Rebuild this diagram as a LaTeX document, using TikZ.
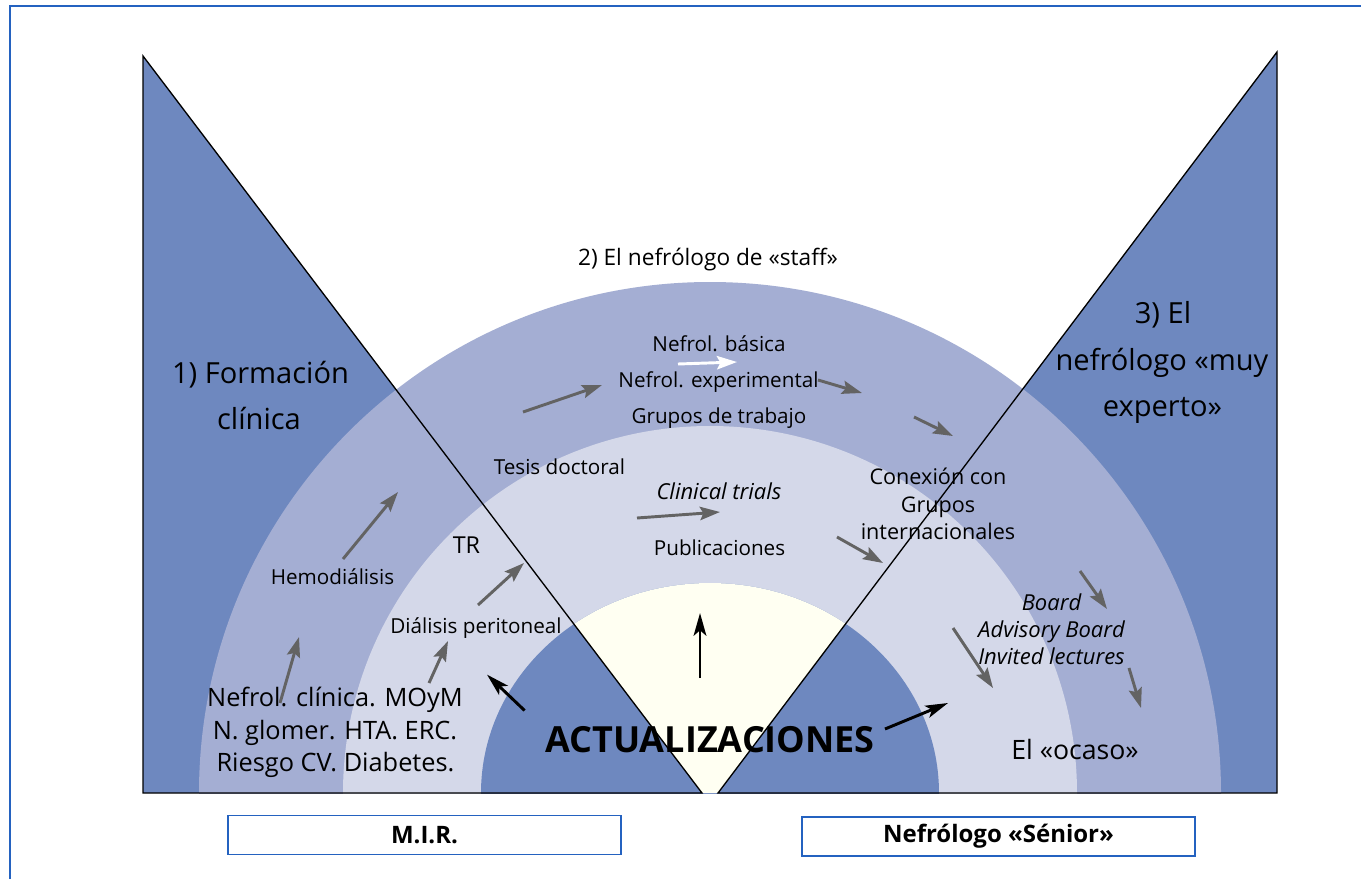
\documentclass[tikz,border=0pt]{standalone}
\usepackage{fontspec}
\setmainfont{Open Sans}
\usetikzlibrary{arrows.meta}
\definecolor{dblue}{HTML}{6E88BF}
\definecolor{mblue}{HTML}{A4AED3}
\definecolor{lblue}{HTML}{D4D8E9}
\definecolor{creamc}{HTML}{FFFFF2}
\definecolor{framec}{HTML}{2462C0}
\definecolor{agray}{HTML}{636363}
\begin{document}
\begin{tikzpicture}[x=0.75pt,y=-0.75pt,
  garrow/.style={draw=agray, line width=2.2pt, -{Stealth[length=15pt,width=10pt,inset=2.5pt]}},
  barrow/.style={draw=black, line width=2.2pt, -{Stealth[length=17pt,width=9.5pt,inset=4pt]}},
  warrow/.style={draw=white, line width=2.2pt, -{Stealth[length=15pt,width=10pt,inset=2.5pt]}},
  sm/.style={anchor=base, inner sep=0pt, font=\fontsize{15.5}{18}\selectfont},
  smi/.style={sm, font=\fontsize{16.5}{19}\selectfont\itshape},
  big/.style={anchor=base, inner sep=0pt, font=\fontsize{21.8}{26}\selectfont},
  mid/.style={anchor=base, inner sep=0pt, font=\fontsize{19}{23}\selectfont},
  labbox/.style={draw=framec, line width=1.1pt, fill=white, minimum width=294.75pt, minimum height=29.5pt, inner sep=0pt, font=\fontsize{18}{21}\selectfont\bfseries},
  edge/.style={draw=black, line width=1pt}]
\useasboundingbox (0,0) rectangle (1361,879);
\fill[white] (0,0) rectangle (1361,879);
\draw[framec, line width=1.5pt] (9.5,879) -- (9.5,6) -- (1361,6);

% triangles
\fill[dblue] (143,56) -- (702,793) -- (143,793) -- cycle;
\fill[dblue] (1277,52) -- (1277,793) -- (718,793) -- cycle;

% rings
\begin{scope}
  \clip (0,0) rectangle (1361,793);
  \fill[mblue] (710,793) circle[radius=511];
  \fill[lblue] (710,793) circle[radius=367];
  \fill[dblue] (710,793) ellipse[x radius=229, y radius=210];
  \clip (702,793) -- (143,56) -- (1277,52) -- (718,793) -- cycle;
  \fill[creamc] (710,793) ellipse[x radius=229, y radius=210];
\end{scope}

% outlines
\draw[edge] (702,793) -- (143,56) -- (143,793) -- cycle;
\draw[edge] (718,793) -- (1277,52) -- (1277,793) -- cycle;

% texts
\node[anchor=base, inner sep=0pt, font=\fontsize{17}{20}\selectfont] (staff) at (708,265) {2) El nefrólogo de «staff»};
\node[big] (f1) at (260.5,383) {1) Formación};
\node[big] (f2) at (259,429) {clínica};
\node[big] (e1) at (1163,323) {3) El};
\node[big] (e2) at (1162,370) {nefrólogo «muy};
\node[big] (e3) at (1162.5,416) {experto»};
\node[sm] (nb) at (719,351) {Nefrol. básica};
\node[sm] (ne) at (718.5,387) {Nefrol. experimental};
\node[sm] (gt) at (719,423) {Grupos de trabajo};
\node[sm] (td) at (559.5,474) {Tesis doctoral};
\node[smi] (ct) at (719,499) {Clinical trials};
\node[sm] (pu) at (719.5,555) {Publicaciones};
\node[sm, font=\fontsize{16.2}{19}\selectfont] (cg1) at (938,484) {Conexión con};
\node[sm, font=\fontsize{16.2}{19}\selectfont] (cg2) at (938,512) {Grupos};
\node[sm, font=\fontsize{16.2}{19}\selectfont] (cg3) at (938,539) {internacionales};
\node[anchor=base, inner sep=0pt, font=\fontsize{17.5}{21}\selectfont] (tr) at (466.5,553) {TR};
\node[sm] (hd) at (332.5,584) {Hemodiálisis};
\node[sm] (dp) at (476,633) {Diálisis peritoneal};
\node[mid] (nc1) at (335,706) {Nefrol. clínica. MOyM};
\node[mid] (nc2) at (335,739) {N. glomer. HTA. ERC.};
\node[mid] (nc3) at (335.5,771) {Riesgo CV. Diabetes.};
\node[anchor=base, inner sep=0pt, font=\fontsize{27}{30}\selectfont\bfseries] (act) at (710,752) {ACTUALIZACIONES};
\node[smi] (bo1) at (1051.5,610) {Board};
\node[smi] (bo2) at (1051.5,637) {Advisory Board};
\node[smi] (bo3) at (1051.5,664) {Invited lectures};
\node[anchor=base, inner sep=0pt, font=\fontsize{20}{24}\selectfont] (oc) at (1075,759) {El «ocaso»};

% boxes
\node[labbox] (mir) at (424.5,835) {M.I.R.};
\node[labbox] (sen) at (998.5,836.5) {Nefrólogo «Sénior»};

% gray arrows
\draw[garrow] (343,559) -- (398,492);
\draw[garrow] (280,703) -- (299,637);
\draw[garrow] (429,683) -- (448,641);
\draw[garrow] (478,605) -- (524,563);
\draw[garrow] (523,412) -- (602,385);
\draw[warrow] (678,364) -- (737,362);
\draw[garrow] (818,380) -- (862,393);
\draw[garrow] (914,417) -- (953,436);
\draw[garrow] (637,518) -- (720,512);
\draw[garrow] (837,537) -- (883,563);
\draw[garrow] (1080,571) -- (1107,609);
\draw[garrow] (953,628) -- (993,688);
\draw[garrow] (1129,668) -- (1141,708);
% black arrows
\draw[barrow] (700,678) -- (700,613);
\draw[barrow] (524.6,710.5) -- (487,674.6);
\draw[barrow] (885,729) -- (948,703);
\end{tikzpicture}
\end{document}
